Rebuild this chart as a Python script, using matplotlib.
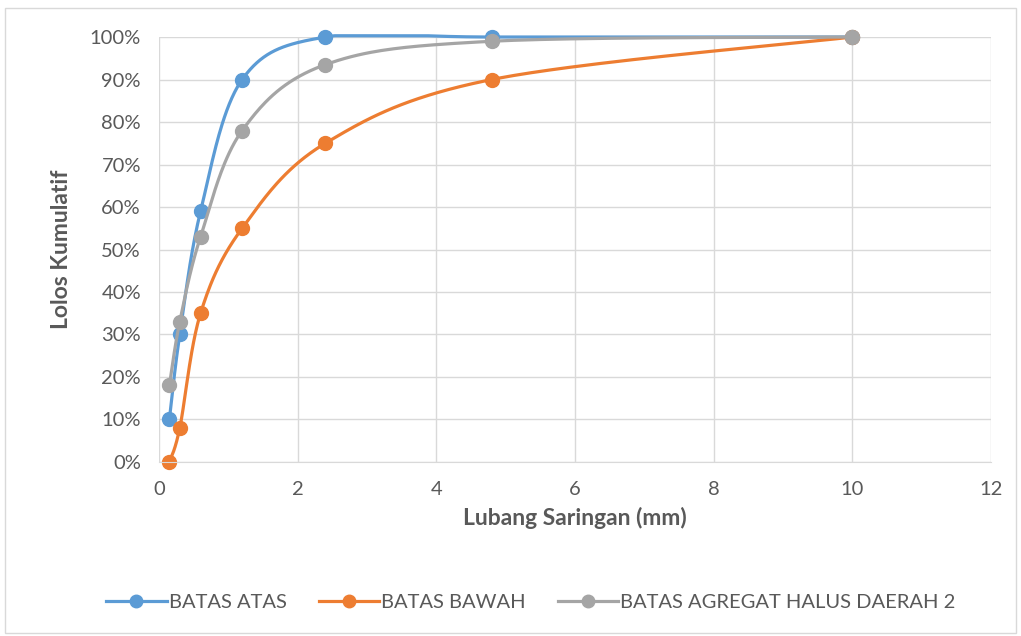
import numpy as np
import matplotlib
matplotlib.use("Agg")
import matplotlib.pyplot as plt
from matplotlib.patches import Rectangle
from matplotlib.ticker import PercentFormatter

# data
ukuran = [0.15, 0.3, 0.6, 1.2, 2.4, 4.8, 10]
batas_atas = [10, 30, 59, 90, 100, 100, 100]
batas_bawah = [0, 8, 35, 55, 75, 90, 100]
batas_daerah2 = [18, 33, 53, 78, 93.5, 99, 100]
nama = ["BATAS ATAS", "BATAS BAWAH", "BATAS AGREGAT HALUS DAERAH 2"]
warna = ["#5b9bd5", "#ed7d31", "#a5a5a5"]

plt.rcParams.update({"font.family": ["Lato", "DejaVu Sans"], "text.color": "#595959"})
TEKS = "#595959"

fig = plt.figure(figsize=(10.21, 6.36), dpi=100)
fig.patches.append(Rectangle((0.005, 0.005), 0.99, 0.982, transform=fig.transFigure,
                             fill=False, ec="#d9d9d9", lw=1))
ax = fig.add_axes([0.1557, 0.2736, 0.8149, 0.6682])
ax.set_xlim(0, 12); ax.set_ylim(0, 100)
ax.set_xticks(range(0, 13, 2)); ax.set_yticks(range(0, 101, 10))
ax.yaxis.set_major_formatter(PercentFormatter(decimals=0))
ax.grid(True, color="#d9d9d9", lw=1); ax.set_axisbelow(True)
for s in ["top", "right"]: ax.spines[s].set_visible(False)
ax.spines["left"].set_visible(False)
ax.spines["bottom"].set_color("#d9d9d9")
ax.tick_params(labelsize=14.5, colors=TEKS, length=0)
ax.tick_params(axis="y", pad=13)
ax.tick_params(axis="x", pad=14)
ax.set_xlabel("Lubang Saringan (mm)", fontsize=16.5, fontweight="bold", color=TEKS, labelpad=6)
ax.set_ylabel("Lolos Kumulatif", fontsize=16.5, fontweight="bold", color=TEKS, labelpad=13)
fig.canvas.draw()

def kurva_halus(x, y, n=40):
    # Excel-style smoothing: cubic Bezier through points, in display space
    P = ax.transData.transform(np.column_stack([x, y]))
    pts = []
    for i in range(len(P) - 1):
        p0 = P[i - 1] if i > 0 else P[i]
        p3 = P[i + 2] if i + 2 < len(P) else P[i + 1]
        c1 = P[i] + (P[i + 1] - p0) / 6
        c2 = P[i + 1] - (p3 - P[i]) / 6
        t = np.linspace(0, 1, n)[:, None]
        seg = ((1 - t) ** 3) * P[i] + 3 * ((1 - t) ** 2) * t * c1 + 3 * (1 - t) * t ** 2 * c2 + t ** 3 * P[i + 1]
        pts.append(seg)
    D = ax.transData.inverted().transform(np.vstack(pts))
    return D[:, 0], np.minimum(D[:, 1], 100.3)

for ys, lbl, c in zip([batas_atas, batas_bawah, batas_daerah2], nama, warna):
    sx, sy = kurva_halus(ukuran, ys)
    ax.plot(sx, sy, color=c, lw=2.3, solid_capstyle="round", clip_on=False)
    ax.plot(ukuran, ys, "o", color=c, ms=10, clip_on=False)
    ax.plot([], [], "-o", color=c, lw=2.3, ms=9, label=lbl)

fig.legend(loc="center", bbox_to_anchor=(0.52, 0.052), ncol=3, frameon=False, fontsize=14.5,
           handlelength=3, columnspacing=1.6, handletextpad=0.1, labelcolor=TEKS)
fig.savefig("out.png", dpi=100)
